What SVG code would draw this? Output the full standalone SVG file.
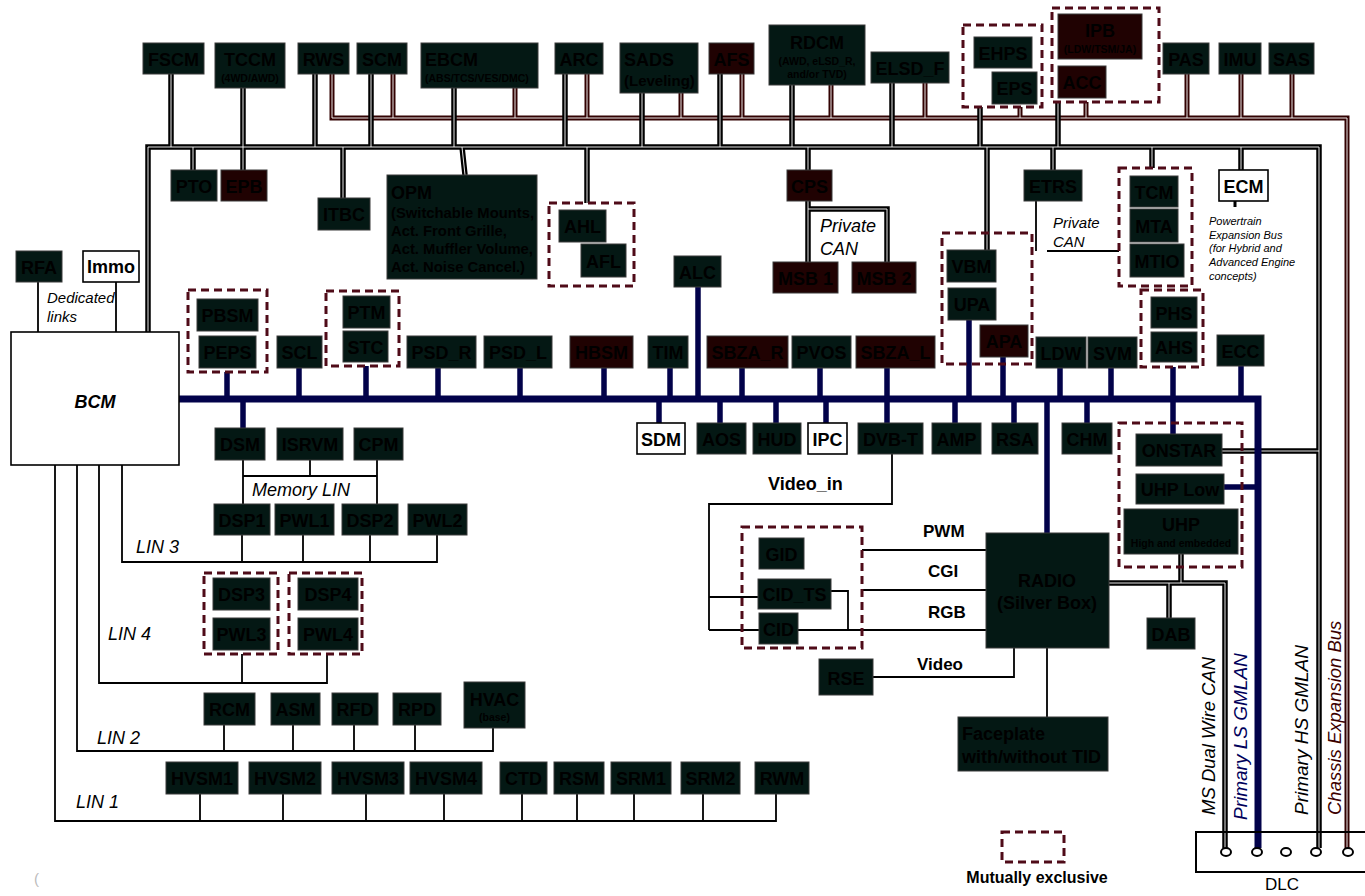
<svg xmlns="http://www.w3.org/2000/svg" xmlns:xlink="http://www.w3.org/1999/xlink" width="1365" height="896" viewBox="0 0 1365 896">
<style>
.n{fill:#041814;stroke:#3a3a3a;stroke-width:1}
.m{fill:#200202;stroke:#3a3a3a;stroke-width:1}
.w{fill:#fff;stroke:#000;stroke-width:1.6}
.lb{font-family:"Liberation Sans",Arial,sans-serif;font-weight:bold;font-size:18px;fill:#000;text-anchor:middle}
.sm{font-family:"Liberation Sans",Arial,sans-serif;font-weight:bold;font-size:10.5px;fill:#000;text-anchor:middle}
.lf{font-family:"Liberation Sans",Arial,sans-serif;font-weight:bold;fill:#000}
.it{font-family:"Liberation Sans",Arial,sans-serif;font-style:italic;fill:#000}
.bd{font-family:"Liberation Sans",Arial,sans-serif;font-weight:bold;fill:#000}
.grp{fill:none;stroke:#4f0b18;stroke-width:3;stroke-dasharray:8 5}
.hsO{fill:none;stroke:#000;stroke-width:5.5}
.hsI{fill:none;stroke:#fff;stroke-width:0.9}
.chO{fill:none;stroke:#320202;stroke-width:5}
.chI{fill:none;stroke:#fff;stroke-width:0.9}
.lsB{fill:none;stroke:#02024a;stroke-width:7}
.lsD{fill:none;stroke:#02024a;stroke-width:5.5}
.thin{fill:none;stroke:#000;stroke-width:1.8}
</style>
<defs>
<path id="hsPath" d="M148,332V147H1319V848M171,74V147M243,88V170M315,74V147M371,74V147M454,88V147M565,74V147M642,93V147M720,74V147M792,85V147M892,83V147M980,107V147M1058,102V147M193,147V170M343,147V198M462,147L465,175M587,147V203M808,147V170M987,147V250M1053,147V170M1152,147V168M1241,147V170M1222,451H1319M808,201V262M808,209H887V262M1109,583H1225V848M1181,554V583M1169,583V618"/>
<path id="chPath" d="M332,74V118H1347V848M393,74V118M515,88V118M587,74V118M681,93V118M742,74V118M831,85V118M925,83V118M1020,107V118M1086,102V118M1187,74V118M1241,74V118M1292,74V118"/>
</defs>
<rect width="1365" height="896" fill="#fff"/>
<g id="connectors">
<g id="thin-links" class="thin">
<path d="M38,282V332M116,282V332"/>
<path d="M55,465V821H776V794M200,794V821M283,794V821M366,794V821M444,794V821M522,794V821M577,794V821M634,794V821M703,794V821"/>
<path d="M77,465V751H493V728M224,725V751M293,725V751M354,725V751M415,725V751"/>
<path d="M99,465V683H327V654M242,654V683"/>
<path d="M122,465V562H437V535M242,535V562M303,535V562M370,535V562"/>
<path d="M243,460V504M243,476H377M310,460V476M377,460V504"/>
<path d="M1036,201V251M1047,251H1119"/>
<path d="M1235,201V207" stroke-width="3"/>
<path d="M892,454V504H709V630M709,597H758M709,630H986M831,591H848V630M862,550H986M862,590H986M873,677H1014V648M1047,648V717"/>
</g>
<g id="chassis-bus">
<use xlink:href="#chPath" class="chO"/>
<use xlink:href="#chPath" class="chI"/>
</g>
<g id="hs-bus">
<use xlink:href="#hsPath" class="hsO"/>
<use xlink:href="#hsPath" class="hsI"/>
</g>
<g id="ls-bus">
<path class="lsB" d="M179,399H1258V848"/>
<path class="lsD" d="M227,372V399M299,368V399M366,366V399M438,368V399M520,368V399M604,368V399M670,368V399M698,287V399M742,368V399M820,368V399M887,368V399M969,320V399M1003,357V399M1060,368V399M1111,368V399M1173,367V434M1241,366V399M243,399V428M659,399V423M720,399V423M776,399V423M826,399V423M887,399V423M955,399V423M1014,399V423M1047,399V533M1087,399V423M1224,487H1258"/>
</g>
</g>
<g id="groups">
<rect class="grp" x="188" y="290" width="79" height="82"/>
<rect class="grp" x="326" y="291" width="73" height="75"/>
<rect class="grp" x="549" y="203" width="85" height="83"/>
<rect class="grp" x="963" y="25" width="79" height="82"/>
<rect class="grp" x="1052" y="8" width="107" height="94"/>
<rect class="grp" x="942" y="233" width="90" height="131"/>
<rect class="grp" x="1119" y="168" width="73" height="118"/>
<rect class="grp" x="1141" y="290" width="62" height="77"/>
<rect class="grp" x="204" y="573" width="74" height="81"/>
<rect class="grp" x="289" y="573" width="73" height="81"/>
<rect class="grp" x="742" y="527" width="120" height="121"/>
<rect class="grp" x="1119" y="423" width="123" height="144"/>
</g>
<g id="n-FSCM"><rect class="n" x="143" y="43" width="61" height="31"/><text class="lb" x="173.5" y="65.5">FSCM</text></g>
<g id="n-TCCM"><rect class="n" x="215" y="43" width="70" height="45"/><text class="lb" x="250" y="66">TCCM</text><text class="sm" x="250" y="82">(4WD/AWD)</text></g>
<g id="n-RWS"><rect class="n" x="298" y="43" width="51" height="31"/><text class="lb" x="323.5" y="65.5">RWS</text></g>
<g id="n-SCM"><rect class="n" x="357" y="43" width="50" height="31"/><text class="lb" x="382" y="65.5">SCM</text></g>
<g id="n-EBCM"><rect class="n" x="421" y="43" width="117" height="45"/><text class="lf" x="425" y="66" font-size="18">EBCM</text><text class="lf" x="425" y="82" font-size="10.5">(ABS/TCS/VES/DMC)</text></g>
<g id="n-ARC"><rect class="n" x="555" y="43" width="48" height="31"/><text class="lb" x="579" y="65.5">ARC</text></g>
<g id="n-SADS"><rect class="n" x="620" y="43" width="78" height="50"/><text class="lf" x="624" y="66" font-size="18">SADS</text><text class="lf" x="624" y="86" font-size="15">(Leveling)</text></g>
<g id="n-AFS"><rect class="m" x="709" y="43" width="45" height="31"/><text class="lb" x="731.5" y="65.5">AFS</text></g>
<g id="n-RDCM"><rect class="n" x="769" y="25" width="96" height="60"/><text class="lb" x="817" y="49">RDCM</text><text class="sm" x="817" y="65" font-size="11">(AWD, eLSD_R,</text><text class="sm" x="817" y="78" font-size="11">and/or TVD)</text></g>
<g id="n-ELSD_F"><rect class="n" x="871" y="52" width="78" height="31"/><text class="lb" x="910" y="74.5">ELSD_F</text></g>
<g id="n-EHPS"><rect class="n" x="974" y="37" width="58" height="31"/><text class="lb" x="1003" y="59.5">EHPS</text></g>
<g id="n-EPS"><rect class="n" x="992" y="72" width="45" height="32"/><text class="lb" x="1014.5" y="95">EPS</text></g>
<g id="n-IPB"><rect class="m" x="1058" y="14" width="84" height="45"/><text class="lb" x="1100" y="37">IPB</text><text class="sm" x="1100" y="53">(LDW/TSM/JA)</text></g>
<g id="n-ACC"><rect class="m" x="1058" y="66" width="48" height="32"/><text class="lb" x="1082" y="89">ACC</text></g>
<g id="n-PAS"><rect class="n" x="1163" y="43" width="46" height="31"/><text class="lb" x="1186" y="65.5">PAS</text></g>
<g id="n-IMU"><rect class="n" x="1219" y="43" width="42" height="31"/><text class="lb" x="1240" y="65.5">IMU</text></g>
<g id="n-SAS"><rect class="n" x="1269" y="43" width="45" height="31"/><text class="lb" x="1291.5" y="65.5">SAS</text></g>
<g id="n-PTO"><rect class="n" x="171" y="170" width="46" height="31"/><text class="lb" x="194" y="192.5">PTO</text></g>
<g id="n-EPB"><rect class="m" x="221" y="170" width="46" height="31"/><text class="lb" x="244" y="192.5">EPB</text></g>
<g id="n-ITBC"><rect class="n" x="318" y="198" width="52" height="32"/><text class="lb" x="344" y="221">ITBC</text></g>
<g id="n-OPM"><rect class="n" x="387" y="175" width="150" height="104"/><text class="lf" x="391" y="199" font-size="18">OPM</text><text class="lf" x="391" y="218" font-size="14.8">(Switchable Mounts,</text><text class="lf" x="391" y="236" font-size="14.8">Act. Front Grille,</text><text class="lf" x="391" y="254" font-size="14.8">Act. Muffler Volume,</text><text class="lf" x="391" y="272" font-size="14.8">Act. Noise Cancel.)</text></g>
<g id="n-AHL"><rect class="n" x="559" y="210" width="47" height="32"/><text class="lb" x="582.5" y="233">AHL</text></g>
<g id="n-AFL"><rect class="n" x="581" y="244" width="45" height="33"/><text class="lb" x="603.5" y="267.5">AFL</text></g>
<g id="n-CPS"><rect class="m" x="787" y="170" width="45" height="31"/><text class="lb" x="809.5" y="192.5">CPS</text></g>
<g id="n-MSB1"><rect class="m" x="773" y="262" width="65" height="31"/><text class="lb" x="805.5" y="284.5">MSB 1</text></g>
<g id="n-MSB2"><rect class="m" x="852" y="262" width="64" height="31"/><text class="lb" x="884" y="284.5">MSB 2</text></g>
<g id="n-ETRS"><rect class="n" x="1024" y="170" width="58" height="31"/><text class="lb" x="1053" y="192.5">ETRS</text></g>
<g id="n-TCM"><rect class="n" x="1130" y="176" width="48" height="31"/><text class="lb" x="1154" y="198.5">TCM</text></g>
<g id="n-MTA"><rect class="n" x="1130" y="209" width="48" height="33"/><text class="lb" x="1154" y="232.5">MTA</text></g>
<g id="n-MTIO"><rect class="n" x="1130" y="244" width="54" height="33"/><text class="lb" x="1157" y="267.5">MTIO</text></g>
<g id="n-ECM"><rect class="w" x="1219" y="170" width="49" height="31"/><text class="lb" x="1243.5" y="193">ECM</text></g>
<g id="n-VBM"><rect class="n" x="947" y="250" width="49" height="32"/><text class="lb" x="971.5" y="273">VBM</text></g>
<g id="n-UPA"><rect class="n" x="948" y="288" width="48" height="32"/><text class="lb" x="972" y="311">UPA</text></g>
<g id="n-APA"><rect class="m" x="980" y="325" width="48" height="32"/><text class="lb" x="1004" y="348">APA</text></g>
<g id="n-ALC"><rect class="n" x="674" y="256" width="47" height="31"/><text class="lb" x="697.5" y="278.5">ALC</text></g>
<g id="n-RFA"><rect class="n" x="16" y="251" width="46" height="31"/><text class="lb" x="39" y="273.5">RFA</text></g>
<g id="n-Immo"><rect class="w" x="83" y="251" width="56" height="31"/><text class="lb" x="111" y="273">Immo</text></g>
<g id="n-BCM"><rect class="w" x="11" y="332" width="168" height="133"/><text class="lb" x="95" y="408" font-size="22" font-style="italic">BCM</text></g>
<g id="n-PBSM"><rect class="n" x="197" y="299" width="61" height="32"/><text class="lb" x="227.5" y="322">PBSM</text></g>
<g id="n-PEPS"><rect class="n" x="199" y="336" width="57" height="32"/><text class="lb" x="227.5" y="359">PEPS</text></g>
<g id="n-SCL"><rect class="n" x="277" y="336" width="45" height="32"/><text class="lb" x="299.5" y="359">SCL</text></g>
<g id="n-PTM"><rect class="n" x="343" y="296" width="47" height="32"/><text class="lb" x="366.5" y="319">PTM</text></g>
<g id="n-STC"><rect class="n" x="343" y="331" width="45" height="31"/><text class="lb" x="365.5" y="353.5">STC</text></g>
<g id="n-PSD_R"><rect class="n" x="407" y="336" width="69" height="32"/><text class="lb" x="441.5" y="359">PSD_R</text></g>
<g id="n-PSD_L"><rect class="n" x="484" y="336" width="68" height="32"/><text class="lb" x="518" y="359">PSD_L</text></g>
<g id="n-HBSM"><rect class="m" x="570" y="336" width="63" height="32"/><text class="lb" x="601.5" y="359">HBSM</text></g>
<g id="n-TIM"><rect class="n" x="648" y="336" width="40" height="32"/><text class="lb" x="668" y="359">TIM</text></g>
<g id="n-SBZA_R"><rect class="m" x="707" y="336" width="81" height="32"/><text class="lb" x="747.5" y="359">SBZA_R</text></g>
<g id="n-PVOS"><rect class="n" x="792" y="336" width="59" height="32"/><text class="lb" x="821.5" y="359">PVOS</text></g>
<g id="n-SBZA_L"><rect class="m" x="856" y="336" width="79" height="32"/><text class="lb" x="895.5" y="359">SBZA_L</text></g>
<g id="n-LDW"><rect class="n" x="1036" y="337" width="50" height="31"/><text class="lb" x="1061" y="359.5">LDW</text></g>
<g id="n-SVM"><rect class="n" x="1088" y="337" width="49" height="31"/><text class="lb" x="1112.5" y="359.5">SVM</text></g>
<g id="n-PHS"><rect class="n" x="1151" y="297" width="46" height="31"/><text class="lb" x="1174" y="319.5">PHS</text></g>
<g id="n-AHS"><rect class="n" x="1151" y="332" width="46" height="30"/><text class="lb" x="1174" y="354">AHS</text></g>
<g id="n-ECC"><rect class="n" x="1217" y="335" width="47" height="31"/><text class="lb" x="1240.5" y="357.5">ECC</text></g>
<g id="n-DSM"><rect class="n" x="215" y="428" width="50" height="32"/><text class="lb" x="240" y="451">DSM</text></g>
<g id="n-ISRVM"><rect class="n" x="277" y="428" width="66" height="32"/><text class="lb" x="310" y="451">ISRVM</text></g>
<g id="n-CPM"><rect class="n" x="354" y="428" width="49" height="32"/><text class="lb" x="378.5" y="451">CPM</text></g>
<g id="n-SDM"><rect class="w" x="637" y="423" width="48" height="31"/><text class="lb" x="661" y="445.5">SDM</text></g>
<g id="n-AOS"><rect class="n" x="697" y="423" width="49" height="31"/><text class="lb" x="721.5" y="445.5">AOS</text></g>
<g id="n-HUD"><rect class="n" x="753" y="423" width="48" height="31"/><text class="lb" x="777" y="445.5">HUD</text></g>
<g id="n-IPC"><rect class="w" x="808" y="423" width="39" height="31"/><text class="lb" x="827.5" y="445.5">IPC</text></g>
<g id="n-DVB-T"><rect class="n" x="858" y="423" width="65" height="31"/><text class="lb" x="890.5" y="445.5">DVB-T</text></g>
<g id="n-AMP"><rect class="n" x="932" y="423" width="49" height="31"/><text class="lb" x="956.5" y="445.5">AMP</text></g>
<g id="n-RSA"><rect class="n" x="992" y="423" width="46" height="31"/><text class="lb" x="1015" y="445.5">RSA</text></g>
<g id="n-CHM"><rect class="n" x="1062" y="423" width="50" height="31"/><text class="lb" x="1087" y="445.5">CHM</text></g>
<g id="n-ONSTAR"><rect class="n" x="1136" y="434" width="86" height="32"/><text class="lb" x="1179" y="457">ONSTAR</text></g>
<g id="n-UHPLow"><rect class="n" x="1136" y="474" width="88" height="30"/><text class="lb" x="1180" y="496">UHP Low</text></g>
<g id="n-UHP"><rect class="n" x="1124" y="509" width="114" height="45"/><text class="lb" x="1181" y="531">UHP</text><text class="sm" x="1181" y="547" font-size="10">High and embedded</text></g>
<g id="n-DSP1"><rect class="n" x="214" y="504" width="56" height="31"/><text class="lb" x="242" y="526.5">DSP1</text></g>
<g id="n-PWL1"><rect class="n" x="275" y="504" width="59" height="31"/><text class="lb" x="304.5" y="526.5">PWL1</text></g>
<g id="n-DSP2"><rect class="n" x="342" y="504" width="56" height="31"/><text class="lb" x="370" y="526.5">DSP2</text></g>
<g id="n-PWL2"><rect class="n" x="408" y="504" width="59" height="31"/><text class="lb" x="437.5" y="526.5">PWL2</text></g>
<g id="n-GID"><rect class="n" x="759" y="538" width="45" height="31"/><text class="lb" x="781.5" y="560.5">GID</text></g>
<g id="n-CID_TS"><rect class="n" x="758" y="579" width="73" height="30"/><text class="lb" x="794.5" y="601">CID_TS</text></g>
<g id="n-CID"><rect class="n" x="759" y="613" width="39" height="31"/><text class="lb" x="778.5" y="635.5">CID</text></g>
<g id="n-RADIO"><rect class="n" x="986" y="533" width="123" height="115"/><text class="lb" x="1047" y="587">RADIO</text><text class="lb" x="1047" y="609">(Silver Box)</text></g>
<g id="n-DAB"><rect class="n" x="1147" y="618" width="48" height="31"/><text class="lb" x="1171" y="640.5">DAB</text></g>
<g id="n-RSE"><rect class="n" x="819" y="659" width="54" height="36"/><text class="lb" x="846" y="685" font-size="21">RSE</text></g>
<g id="n-Faceplate"><rect class="n" x="958" y="717" width="150" height="54"/><text class="lf" x="962" y="740" font-size="18">Faceplate</text><text class="lf" x="962" y="763" font-size="18">with/without TID</text></g>
<g id="n-DSP3"><rect class="n" x="213" y="578" width="57" height="32"/><text class="lb" x="241.5" y="601">DSP3</text></g>
<g id="n-PWL3"><rect class="n" x="213" y="618" width="57" height="32"/><text class="lb" x="241.5" y="641">PWL3</text></g>
<g id="n-DSP4"><rect class="n" x="298" y="578" width="60" height="32"/><text class="lb" x="328" y="601">DSP4</text></g>
<g id="n-PWL4"><rect class="n" x="298" y="618" width="60" height="32"/><text class="lb" x="328" y="641">PWL4</text></g>
<g id="n-RCM"><rect class="n" x="204" y="693" width="51" height="32"/><text class="lb" x="229.5" y="716">RCM</text></g>
<g id="n-ASM"><rect class="n" x="271" y="693" width="49" height="32"/><text class="lb" x="295.5" y="716">ASM</text></g>
<g id="n-RFD"><rect class="n" x="332" y="693" width="46" height="32"/><text class="lb" x="355" y="716">RFD</text></g>
<g id="n-RPD"><rect class="n" x="393" y="693" width="48" height="32"/><text class="lb" x="417" y="716">RPD</text></g>
<g id="n-HVAC"><rect class="n" x="464" y="682" width="61" height="46"/><text class="lb" x="494.5" y="706">HVAC</text><text class="sm" x="494.5" y="721">(base)</text></g>
<g id="n-HVSM1"><rect class="n" x="166" y="762" width="72" height="32"/><text class="lb" x="202" y="785">HVSM1</text></g>
<g id="n-HVSM2"><rect class="n" x="249" y="762" width="72" height="32"/><text class="lb" x="285" y="785">HVSM2</text></g>
<g id="n-HVSM3"><rect class="n" x="332" y="762" width="72" height="32"/><text class="lb" x="368" y="785">HVSM3</text></g>
<g id="n-HVSM4"><rect class="n" x="410" y="762" width="72" height="32"/><text class="lb" x="446" y="785">HVSM4</text></g>
<g id="n-CTD"><rect class="n" x="500" y="762" width="47" height="32"/><text class="lb" x="523.5" y="785">CTD</text></g>
<g id="n-RSM"><rect class="n" x="554" y="762" width="50" height="32"/><text class="lb" x="579" y="785">RSM</text></g>
<g id="n-SRM1"><rect class="n" x="611" y="762" width="60" height="32"/><text class="lb" x="641" y="785">SRM1</text></g>
<g id="n-SRM2"><rect class="n" x="681" y="762" width="59" height="32"/><text class="lb" x="710.5" y="785">SRM2</text></g>
<g id="n-RWM"><rect class="n" x="755" y="762" width="54" height="32"/><text class="lb" x="782" y="785">RWM</text></g>
<g id="n-DLC">
<rect x="1196" y="832" width="180" height="40" fill="none" stroke="#000" stroke-width="2"/>
<g fill="#fff" stroke="#000" stroke-width="2"><ellipse cx="1226" cy="852" rx="5" ry="4"/><ellipse cx="1257" cy="852" rx="5" ry="4"/><ellipse cx="1286" cy="852" rx="5" ry="4"/><ellipse cx="1316" cy="852" rx="5" ry="4"/><ellipse cx="1348" cy="852" rx="5" ry="4"/></g>
<text x="1282" y="890" font-family="Liberation Sans, Arial, sans-serif" font-size="17" text-anchor="middle">DLC</text>
</g>
<g id="legend">
<rect class="grp" x="1002" y="832" width="62" height="30"/>
<text class="bd" x="1037" y="883" font-size="16" text-anchor="middle">Mutually exclusive</text>
</g>
<g id="labels">
<text class="it" x="47" y="303" font-size="15">Dedicated</text>
<text class="it" x="47" y="322" font-size="15">links</text>
<text class="it" x="820" y="232" font-size="18">Private</text>
<text class="it" x="820" y="255" font-size="18">CAN</text>
<text class="it" x="1053" y="228" font-size="15">Private</text>
<text class="it" x="1053" y="247" font-size="15">CAN</text>
<text class="it" x="1209" y="225" font-size="11">Powertrain</text>
<text class="it" x="1209" y="239" font-size="11">Expansion Bus</text>
<text class="it" x="1209" y="252" font-size="11">(for Hybrid and</text>
<text class="it" x="1209" y="266" font-size="11">Advanced Engine</text>
<text class="it" x="1209" y="280" font-size="11">concepts)</text>
<text class="it" x="252" y="496" font-size="18">Memory LIN</text>
<text class="it" x="136" y="553" font-size="18">LIN 3</text>
<text class="it" x="108" y="640" font-size="18">LIN 4</text>
<text class="it" x="97" y="744" font-size="18">LIN 2</text>
<text class="it" x="76" y="808" font-size="18">LIN 1</text>
<text class="bd" x="768" y="490" font-size="18">Video_in</text>
<text class="bd" x="923" y="537" font-size="17">PWM</text>
<text class="bd" x="928" y="577" font-size="17">CGI</text>
<text class="bd" x="928" y="618" font-size="17">RGB</text>
<text class="bd" x="917" y="670" font-size="17">Video</text>
<text class="it" font-size="18.5" transform="translate(1215,815) rotate(-90)">MS Dual Wire CAN</text>
<text class="it" font-size="19" style="fill:#00005a" transform="translate(1247,820) rotate(-90)">Primary LS GMLAN</text>
<text class="it" font-size="19" transform="translate(1308,815) rotate(-90)">Primary HS GMLAN</text>
<text class="it" font-size="18.5" style="fill:#3c0000" transform="translate(1341,815) rotate(-90)">Chassis Expansion Bus</text>
<text x="34" y="884" font-family="Liberation Sans, Arial, sans-serif" font-size="15" fill="#bbb">(</text>
</g>
</svg>
